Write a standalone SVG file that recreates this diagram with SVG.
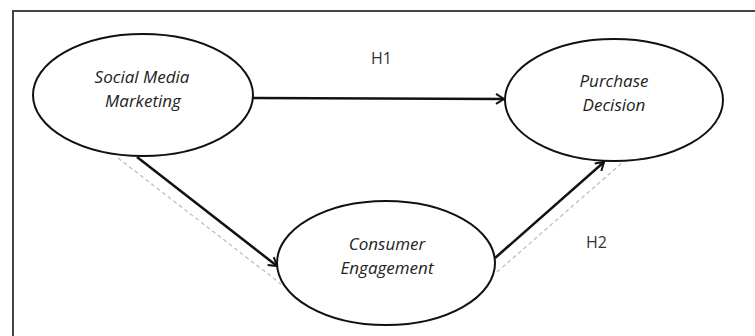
<svg xmlns="http://www.w3.org/2000/svg" width="755" height="336" viewBox="0 0 755 336">
<style>
.node ellipse{fill:#fff;stroke:#111;stroke-width:2}
.lbl{font-family:"Open Sans","Liberation Sans",sans-serif;font-size:17px;font-style:italic;fill:#222;text-anchor:middle}
.h{font-family:"Open Sans","Liberation Sans",sans-serif;font-size:16px;fill:#333}
.arr{stroke:#111;stroke-width:2.5;fill:none;marker-end:url(#ah)}
.dash{stroke:#bbb;stroke-width:1.2;stroke-dasharray:4 3;fill:none}
</style>
<defs>
<marker id="ah" viewBox="0 0 12 12" refX="10" refY="6" markerWidth="12" markerHeight="12" markerUnits="userSpaceOnUse" orient="auto">
<path d="M2,1 L10,6 L2,11" fill="none" stroke="#111" stroke-width="2"/>
</marker>
</defs>
<rect width="755" height="336" fill="#fff"/>
<path d="M13,336 V11 H755" fill="none" stroke="#444" stroke-width="2"/>
<g id="connectors">
<line class="dash" x1="118" y1="158" x2="281" y2="284"/>
<line class="dash" x1="497" y1="272" x2="623" y2="162"/>
<line class="arr" x1="253" y1="98" x2="504" y2="99"/>
<line class="arr" x1="137" y1="157" x2="277" y2="266"/>
<line class="arr" x1="495" y1="258" x2="604" y2="162"/>
<text class="h" x="371" y="64">H1</text>
<text class="h" x="586" y="248">H2</text>
</g>
<g id="smm" class="node">
<ellipse cx="143" cy="95" rx="110" ry="61"/>
<text class="lbl" x="142" y="83">Social Media</text>
<text class="lbl" x="143" y="107">Marketing</text>
</g>
<g id="pd" class="node">
<ellipse cx="614" cy="100" rx="109" ry="61"/>
<text class="lbl" x="614" y="87">Purchase</text>
<text class="lbl" x="614" y="111">Decision</text>
</g>
<g id="ce" class="node">
<ellipse cx="386" cy="263" rx="109" ry="62"/>
<text class="lbl" x="387" y="250">Consumer</text>
<text class="lbl" x="387" y="274">Engagement</text>
</g>
</svg>
